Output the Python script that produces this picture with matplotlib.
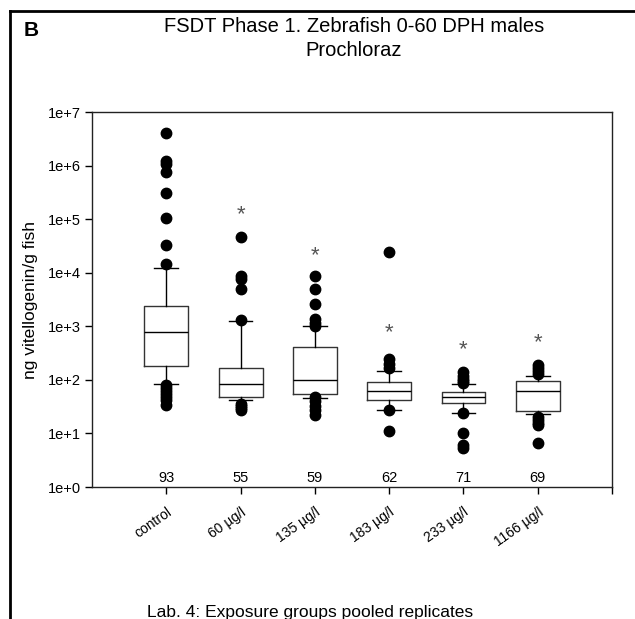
import numpy as np
import matplotlib.pyplot as plt
from matplotlib.lines import Line2D

plt.rcParams['font.family'] = ['Liberation Sans', 'DejaVu Sans']

# ---- data ----
groups = ['control', '60 µg/l', '135 µg/l', '183 µg/l', '233 µg/l', '1166 µg/l']
n_fish = [93, 55, 59, 62, 71, 69]

q1 = [184, 48, 54, 42, 37.5, 26.5]
median = [792, 84, 98, 62, 48, 62]
q3 = [2390, 169, 404, 92, 60, 96]
whisk_lo = [84, 42, 45, 28, 24, 22.7]
whisk_hi = [12400, 1260, 1030, 148, 84, 119]

outliers = [
    [4.1e6, 1.2e6, 1.05e6, 7.7e5, 3.1e5, 1.04e5, 3.3e4, 1.44e4,
     80, 70, 62, 55, 48, 42, 34],
    [4.6e4, 8700, 7600, 5000, 1300, 36, 33, 30, 28],
    [8800, 5000, 2600, 1350, 1150, 1000, 47, 40, 33, 28, 22],
    [2.4e4, 250, 200, 165, 28, 11],
    [140, 120, 105, 95, 88, 24, 10.2, 6.1, 5.4],
    [190, 165, 145, 130, 20, 18, 16, 14.5, 6.5],
]

# significance stars (None = no star)
star_y = [None, 1.2e5, 2.1e4, 750, 370, 500]

# ---- figure ----
fig = plt.figure(figsize=(6.35, 6.19), dpi=100)
ax = fig.add_axes([0.1449, 0.2132, 0.819, 0.6058])

positions = np.arange(1, len(groups) + 1)
stats = []
for i in range(len(groups)):
    stats.append({'med': median[i], 'q1': q1[i], 'q3': q3[i],
                  'whislo': whisk_lo[i], 'whishi': whisk_hi[i],
                  'fliers': outliers[i], 'label': groups[i]})

ax.bxp(stats, positions=positions, widths=0.59, showfliers=True,
       boxprops=dict(color='#333333', lw=1.0),
       medianprops=dict(color='black', lw=1.0),
       whiskerprops=dict(color='black', lw=1.0),
       capprops=dict(color='black', lw=1.0),
       capwidths=0.32,
       flierprops=dict(marker='o', markerfacecolor='black', markeredgecolor='black',
                       markersize=7.5, linestyle='none'))

ax.set_yscale('log')
ax.set_ylim(1, 1e7)
ax.set_xlim(0, 7)
ax.set_yticks([10.0 ** k for k in range(8)])
ax.set_yticklabels(['1e+%d' % k for k in range(8)], fontsize=10.5)
ax.yaxis.set_minor_locator(plt.NullLocator())
ax.set_xticks(list(positions) + [7])
ax.set_xticklabels(groups + [''], rotation=35, ha='right', rotation_mode='anchor', fontsize=10)
ax.tick_params(axis='both', direction='out', length=5, width=1, pad=3)
ax.tick_params(axis='x', pad=8)
ax.set_ylabel('ng vitellogenin/g fish', fontsize=12.5, labelpad=7)

for sp in ax.spines.values():
    sp.set_linewidth(1.0)
    sp.set_color('#222222')

for i, n in enumerate(n_fish):
    ax.text(positions[i], 1.45, str(n), ha='center', va='center', fontsize=10.5)

for i, s in enumerate(star_y):
    if s is not None:
        ax.text(positions[i], s, '*', ha='center', va='center', fontsize=16, color='#555555')

# titles and annotations
fig.text(354 / 635, 1 - 26 / 619, 'FSDT Phase 1. Zebrafish 0-60 DPH males',
         ha='center', va='center', fontsize=14.5)
fig.text(354 / 635, 1 - 51 / 619, 'Prochloraz', ha='center', va='center', fontsize=14.5)
fig.text(24 / 635, 1 - 30 / 619, 'B', ha='left', va='center', fontsize=15, fontweight='bold')
fig.text(147 / 635, 1 - 617 / 619, 'Lab. 4: Exposure groups pooled replicates',
         ha='left', va='baseline', fontsize=12.5)

# panel frame (left and top edges)
fig.add_artist(Line2D([10 / 635, 10 / 635], [0, 1 - 11 / 619], transform=fig.transFigure,
                      color='black', lw=2))
fig.add_artist(Line2D([10 / 635, 1], [1 - 11 / 619, 1 - 11 / 619], transform=fig.transFigure,
                      color='black', lw=2))

plt.savefig('out.png', dpi=100)
